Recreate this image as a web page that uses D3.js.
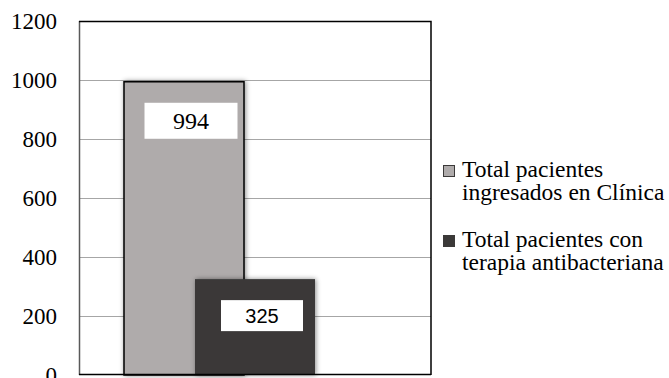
<!DOCTYPE html>
<html>
<head>
<meta charset="utf-8">
<script src="https://cdn.jsdelivr.net/npm/d3@7"></script>
<style>
  html, body { margin: 0; padding: 0; background: #fff; }
  svg { display: block; }
</style>
</head>
<body>
<svg id="chart" width="669" height="378"></svg>
<script>
// Data
const seriesNames = ["Total pacientes ingresados en Clínica", "Total pacientes con terapia antibacteriana"];
const legendLines = [["Total pacientes", "ingresados en Clínica"], ["Total pacientes con", "terapia antibacteriana"]];
const seriesValues = [994, 325];
const yTicks = [0, 200, 400, 600, 800, 1000, 1200];

const colors = ["#afabab", "#3b3938"];
const SERIF = "Liberation Serif";
const SANS = "Liberation Sans";

const svg = d3.select("#chart");
const plot = { left: 79, right: 431, top: 21, bottom: 375 };

const y = d3.scaleLinear().domain([0, 1200]).range([plot.bottom, plot.top]);
// bars overlap: start positions per series, fixed bar width
const x = d3.scaleBand().domain(seriesNames).range([124, 266]).padding(0);
const barW = 120;

const defs = svg.append("defs");
const shadow = defs.append("filter").attr("id", "shadow")
  .attr("x", "-20%").attr("y", "-10%").attr("width", "140%").attr("height", "120%");
shadow.append("feDropShadow").attr("dx", 1).attr("dy", 0).attr("stdDeviation", 2.5)
  .attr("flood-color", "#000").attr("flood-opacity", 0.45);

// gridlines
svg.append("g").selectAll("line").data(yTicks.filter(t => t > 0 && t < 1200)).join("line")
  .attr("x1", plot.left).attr("x2", plot.right)
  .attr("y1", d => y(d) + 0.5).attr("y2", d => y(d) + 0.5)
  .attr("stroke", "#a6a6a6").attr("stroke-width", 1);

// y axis labels
const yAxis = d3.axisLeft(y).tickValues(yTicks).tickSize(0).tickPadding(22).tickFormat(d3.format("d"));
const ga = svg.append("g").attr("transform", `translate(${plot.left},0)`).call(yAxis);
ga.attr("font-family", SERIF).attr("font-size", 23);
ga.select(".domain").remove();
ga.selectAll("text").attr("font-family", SERIF).attr("font-size", 23).attr("fill", "#000")
  .attr("dy", "0.34em");

// bars
const bars = svg.append("g");
seriesNames.forEach((s, i) => {
  bars.append("rect")
    .attr("x", x(s)).attr("y", y(seriesValues[i]))
    .attr("width", barW).attr("height", y(0) - y(seriesValues[i]))
    .attr("fill", colors[i])
    .attr("stroke", i === 0 ? "#000" : "none")
    .attr("stroke-width", 1.5)
    .attr("filter", "url(#shadow)");
});

// value labels in white boxes
const labelCfg = [
  { w: 93, h: 36, font: SERIF, size: 24 },
  { w: 82, h: 31, font: SANS, size: 20 }
];
seriesNames.forEach((s, i) => {
  const c = labelCfg[i];
  const cx = x(s) + barW / 2 + 7;
  const top = y(seriesValues[i]) + 21;
  bars.append("rect").attr("x", cx - c.w / 2).attr("y", top)
    .attr("width", c.w).attr("height", c.h).attr("fill", "#fff");
  bars.append("text").attr("x", cx).attr("y", top + c.h / 2)
    .attr("dy", "0.36em").attr("text-anchor", "middle")
    .attr("font-family", c.font).attr("font-size", c.size).attr("fill", "#000")
    .text(seriesValues[i]);
});

// frame
svg.append("line").attr("x1", plot.left + 0.5).attr("x2", plot.left + 0.5)
  .attr("y1", plot.top).attr("y2", plot.bottom).attr("stroke", "#595959").attr("stroke-width", 1.5);
svg.append("path")
  .attr("d", `M${plot.left},${plot.top + 0.5}H${plot.right}V${plot.bottom}`)
  .attr("fill", "none").attr("stroke", "#000").attr("stroke-width", 1.5);
svg.append("line").attr("x1", plot.left).attr("x2", plot.right)
  .attr("y1", plot.bottom - 0.5).attr("y2", plot.bottom - 0.5)
  .attr("stroke", "#000").attr("stroke-width", 1.5);

// legend
const legendTop = [177, 247];
const lg = svg.append("g");
legendLines.forEach((lines, i) => {
  lg.append("rect").attr("x", 443.5).attr("y", legendTop[i] - 11.5)
    .attr("width", 11).attr("height", 11)
    .attr("fill", colors[i]).attr("stroke", "#3b3938").attr("stroke-width", 1);
  const t = lg.append("text").attr("font-family", SERIF).attr("font-size", 23.5).attr("fill", "#000");
  lines.forEach((ln, j) => {
    t.append("tspan").attr("x", 462).attr("y", legendTop[i] + j * 23).text(ln);
  });
});
</script>
</body>
</html>
